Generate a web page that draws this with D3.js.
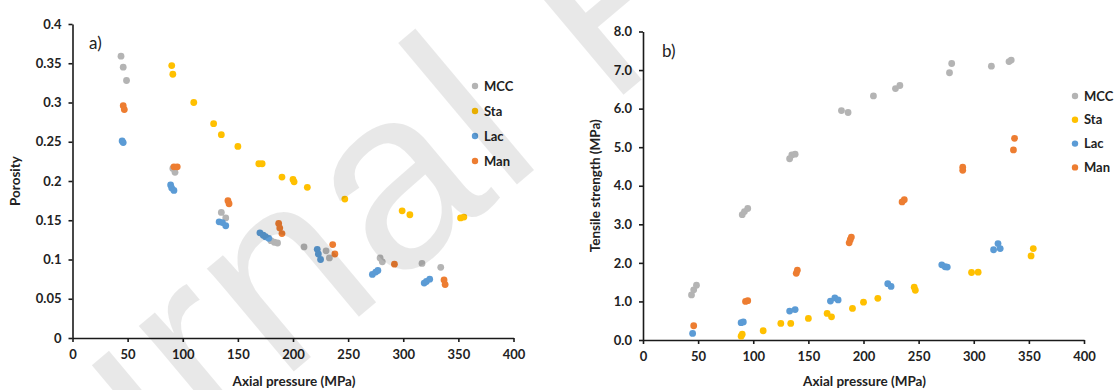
<!DOCTYPE html>
<html>
<head>
<meta charset="utf-8">
<script src="https://cdn.jsdelivr.net/npm/d3@7"></script>
<style>
  body { margin: 0; background: #fff; }
  svg { display: block; font-family: Lato, "Open Sans", sans-serif; }
  .axis path, .axis line { stroke: #1a1a1a; stroke-width: 1.6px; }
  .axis text { font-size: 13px; font-weight: bold; fill: #222; font-family: Lato, sans-serif; }
</style>
</head>
<body>
<div id="chart"></div>
<script>
  // ---- data ----
  var seriesNames = ["MCC", "Sta", "Lac", "Man"];
  var seriesColors = ["#b4b4b4", "#ffc000", "#5b9bd5", "#ed7d31"];

  // a) porosity vs axial pressure
  var mccPorosity = [[44, 0.359], [46, 0.345], [49, 0.328], [91, 0.216], [93, 0.211], [135, 0.160], [139, 0.153],
    [180, 0.124], [183, 0.122], [186, 0.121], [210, 0.116], [230, 0.111], [233, 0.102], [279, 0.102], [281, 0.097],
    [317, 0.095], [334, 0.090]];
  var staPorosity = [[90, 0.347], [91, 0.336], [110, 0.300], [128, 0.273], [135, 0.259], [150, 0.244], [169, 0.222],
    [172, 0.222], [190, 0.205], [200, 0.202], [201, 0.199], [213, 0.192], [247, 0.177], [299, 0.162], [306, 0.157],
    [352, 0.153], [355, 0.154]];
  var lacPorosity = [[45, 0.251], [46, 0.249], [89, 0.195], [90, 0.191], [92, 0.188], [133, 0.148], [136, 0.147],
    [139, 0.143], [170, 0.134], [173, 0.131], [175, 0.129], [178, 0.127], [222, 0.113], [223, 0.107], [225, 0.100],
    [272, 0.081], [275, 0.084], [277, 0.086], [319, 0.070], [321, 0.072], [324, 0.075]];
  var manPorosity = [[46, 0.296], [47, 0.291], [92, 0.218], [95, 0.218], [141, 0.175], [142, 0.171], [187, 0.146],
    [188, 0.140], [190, 0.133], [236, 0.119], [238, 0.107], [292, 0.094], [337, 0.074], [338, 0.068]];

  // b) tensile strength vs axial pressure
  var mccTensile = [[44, 1.17], [46, 1.30], [48.5, 1.42], [90, 3.25], [92, 3.33], [95, 3.41], [133, 4.70],
    [135, 4.80], [138, 4.82], [180, 5.95], [186, 5.90], [209, 6.33], [229, 6.52], [233, 6.60], [278, 6.93],
    [280, 7.17], [316, 7.10], [332, 7.22], [334, 7.26]];
  var staTensile = [[89, 0.10], [90, 0.15], [109, 0.24], [125, 0.43], [134, 0.43], [150, 0.56], [167, 0.69],
    [171, 0.60], [190, 0.82], [200, 0.98], [213, 1.08], [246, 1.37], [247, 1.29], [298, 1.75], [304, 1.76],
    [352, 2.18], [354, 2.37]];
  var lacTensile = [[45, 0.17], [89, 0.45], [91, 0.47], [133, 0.75], [138, 0.79], [170, 1.01], [174, 1.09],
    [177, 1.04], [222, 1.46], [225, 1.39], [271, 1.95], [274, 1.90], [276, 1.89], [318, 2.34], [322, 2.50],
    [324, 2.37]];
  var manTensile = [[46, 0.37], [93, 1.00], [95, 1.02], [139, 1.73], [140, 1.81], [187, 2.52], [188, 2.60],
    [189, 2.67], [235, 3.58], [237, 3.64], [290, 4.40], [290, 4.48], [336, 4.93], [337, 5.23]];

  var xTicks = [0, 50, 100, 150, 200, 250, 300, 350, 400];
  var porosityTicks = [0, 0.05, 0.1, 0.15, 0.2, 0.25, 0.3, 0.35, 0.4];
  var porosityTickLabels = ["0", "0.05", "0.1", "0.15", "0.2", "0.25", "0.3", "0.35", "0.4"];
  var tensileTicks = [0, 1, 2, 3, 4, 5, 6, 7, 8];
  var tensileTickLabels = ["0.0", "1.0", "2.0", "3.0", "4.0", "5.0", "6.0", "7.0", "8.0"];

  var W = 1118, H = 390;
  var svg = d3.select("#chart").append("svg").attr("width", W).attr("height", H);

  function drawPanel(cfg) {
    var x = d3.scaleLinear().domain([0, 400]).range(cfg.xRange);
    var y = d3.scaleLinear().domain(cfg.yDomain).range(cfg.yRange);
    var g = svg.append("g");

    g.append("g")
      .attr("class", "axis")
      .attr("transform", "translate(0," + cfg.yRange[0] + ")")
      .call(d3.axisBottom(x).tickValues(xTicks).tickSize(4).tickSizeOuter(0).tickPadding(8));

    g.append("g")
      .attr("class", "axis")
      .attr("transform", "translate(" + cfg.xRange[0] + ",0)")
      .call(d3.axisLeft(y).tickValues(cfg.yTicks).tickSize(4).tickSizeOuter(0).tickPadding(7)
        .tickFormat(function (d, i) { return cfg.yLabels[i]; }));

    cfg.series.forEach(function (s, i) {
      g.append("g")
        .selectAll("circle")
        .data(s)
        .enter()
        .append("circle")
        .attr("cx", function (d) { return x(d[0]); })
        .attr("cy", function (d) { return y(d[1]); })
        .attr("r", 3.4)
        .attr("fill", seriesColors[i]);
    });

    // axis titles
    g.append("text")
      .attr("x", (cfg.xRange[0] + cfg.xRange[1]) / 2 + 1)
      .attr("y", 386)
      .attr("text-anchor", "middle")
      .style("font-size", "13.5px").style("font-weight", "bold").style("fill", "#222")
      .text("Axial pressure (MPa)");

    g.append("text")
      .attr("transform", "translate(" + cfg.yTitleX + "," + ((cfg.yRange[0] + cfg.yRange[1]) / 2) + ") rotate(-90)")
      .attr("text-anchor", "middle")
      .style("font-size", "13.5px").style("font-weight", "bold").style("fill", "#222")
      .text(cfg.yTitle);

    // panel letter
    g.append("text")
      .attr("x", cfg.letterPos[0]).attr("y", cfg.letterPos[1])
      .style("font-size", "17px").style("fill", "#222")
      .text(cfg.letter);

    // legend
    var legend = g.selectAll(".legend")
      .data(seriesNames)
      .enter().append("g")
      .attr("class", "legend")
      .attr("transform", function (d, i) {
        return "translate(" + cfg.legendPos[0] + "," + (cfg.legendPos[1] + i * cfg.legendStep) + ")";
      });
    legend.append("circle").attr("r", 3.2).attr("fill", function (d, i) { return seriesColors[i]; });
    legend.append("text")
      .attr("x", 9).attr("dy", "0.35em")
      .style("font-size", "13px").style("font-weight", "bold").style("fill", "#222")
      .text(function (d) { return d; });
  }

  drawPanel({
    xRange: [72.5, 513.5], yRange: [338, 24], yDomain: [0, 0.4],
    yTicks: porosityTicks, yLabels: porosityTickLabels,
    series: [mccPorosity, staPorosity, lacPorosity, manPorosity],
    yTitle: "Porosity", yTitleX: 20, letter: "a)", letterPos: [89, 49],
    legendPos: [475, 86], legendStep: 25
  });

  drawPanel({
    xRange: [643, 1084], yRange: [340, 31.5], yDomain: [0, 8],
    yTicks: tensileTicks, yLabels: tensileTickLabels,
    series: [mccTensile, staTensile, lacTensile, manTensile],
    yTitle: "Tensile strength (MPa)", yTitleX: 600, letter: "b)", letterPos: [662, 57],
    legendPos: [1075, 96], legendStep: 23.8
  });

  // faint diagonal watermark over the figure
  svg.append("text")
    .attr("transform", "translate(-112,712) rotate(-40)")
    .style("font-family", "'Liberation Sans', sans-serif")
    .style("font-size", "255px")
    .style("letter-spacing", "4px")
    .style("fill", "#000")
    .style("fill-opacity", 0.09)
    .style("pointer-events", "none")
    .text("Journal Pre-proof");
</script>
</body>
</html>
